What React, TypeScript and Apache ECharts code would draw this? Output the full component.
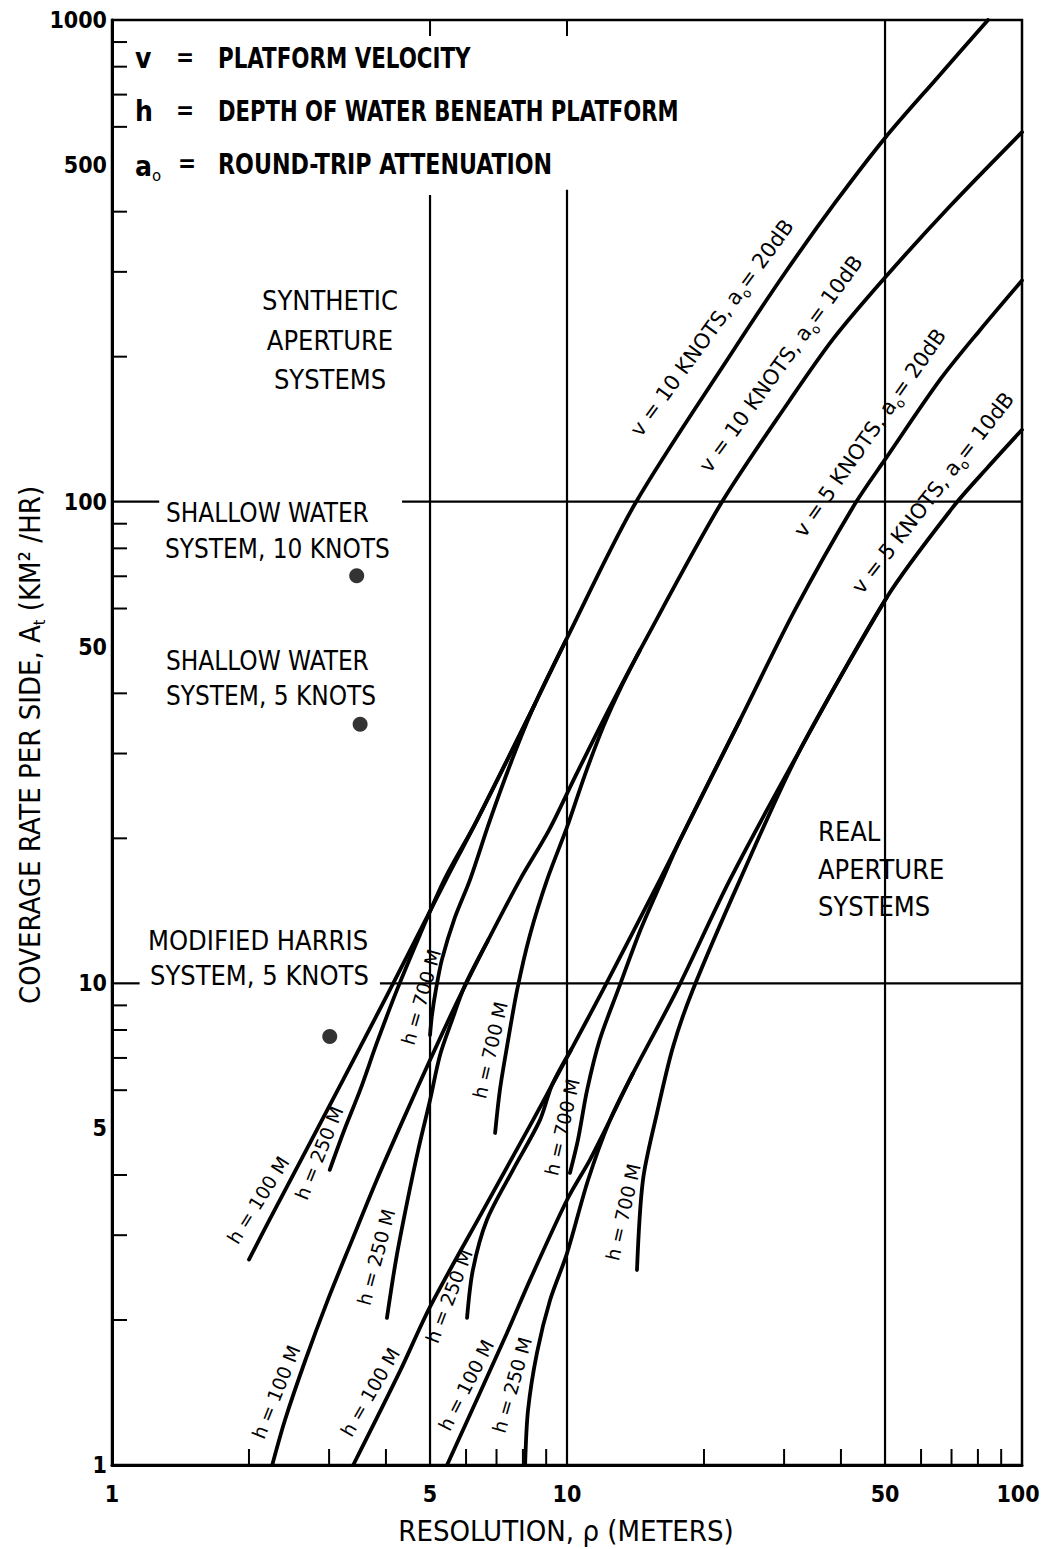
import React, { useEffect, useRef } from "react";
import * as echarts from "echarts";

// ---------- tick values ----------
const xTickValues = [1, 5, 10, 50, 100];
const yTickValues = [1, 5, 10, 50, 100, 500, 1000];
const xMinorTicks = [2, 3, 4, 6, 7, 8, 9, 20, 30, 40, 60, 70, 80, 90];
const yMinorTicks = [2, 3, 4, 6, 7, 8, 9, 20, 30, 40, 60, 70, 80, 90, 200, 300, 400, 600, 700, 800, 900];
const topTicks = [5, 10];

// ---------- curves: [resolution (m), coverage rate (km²/hr)] ----------
// v = 10 knots, a0 = 20 dB
const v10a20_h100 = [[84.2, 1000], [65.1, 758], [50.0, 569], [38.8, 417], [30.1, 298], [23.2, 206], [14.1, 98.9], [9.95, 51.6], [8.5, 38.0], [6.34, 21.8], [5.42, 16.4], [4.92, 13.7], [4.08, 9.69], [3.22, 6.3], [2.22, 3.23], [2.0, 2.67]];
const v10a20_h250 = [[8.5, 38.0], [6.34, 21.8], [5.39, 16.5], [4.75, 12.6], [4.23, 9.69], [3.82, 7.52], [3.51, 6.0], [3.24, 4.96], [3.01, 4.1]];
const v10a20_h700 = [[9.95, 51.6], [8.5, 38.0], [7.57, 29.1], [6.77, 21.8], [6.12, 16.4], [5.67, 13.7], [5.31, 11.2], [5.15, 9.69], [5.05, 8.6], [5.0, 7.81]];
// v = 10 knots, a0 = 10 dB
const v10a10_h100 = [[100, 585], [69.5, 411], [50, 292], [38.5, 218], [30.9, 162.6], [21.7, 98.4], [14.47, 49.2], [12.24, 36.4], [10.41, 26.8], [9.13, 20.8], [7.88, 16.4], [6.71, 12.3], [5.76, 9.23], [5.0, 6.93], [4.36, 5.2], [3.82, 3.91], [3.37, 2.93], [2.98, 2.2], [2.66, 1.65], [2.4, 1.24], [2.25, 1.0]];
const v10a10_h250 = [[6.71, 12.3], [5.97, 9.92], [5.59, 8.39], [5.26, 7.1], [5.0, 5.72], [4.71, 4.51], [4.45, 3.5], [4.21, 2.67], [4.02, 2.02]];
const v10a10_h700 = [[14.47, 49.2], [13.21, 41.6], [12.06, 34.4], [10.95, 27.1], [10.0, 21.1], [9.04, 16.4], [8.29, 12.6], [7.77, 9.69], [7.38, 7.38], [7.12, 6.0], [6.95, 4.89]];
// v = 5 knots, a0 = 20 dB
const v5a20_h100 = [[100, 288], [80.8, 227], [66, 179], [50.5, 124], [42.5, 97.4], [31.7, 59.6], [24.0, 35.2], [17.7, 19.8], [16.0, 16.4], [12.0, 9.69], [10.2, 7.27], [9.27, 6.15], [8.42, 5.2], [6.6, 3.43], [5.0, 2.13], [4.3, 1.57], [3.39, 1.0]];
const v5a20_h250 = [[10.2, 7.27], [9.27, 6.15], [8.72, 5.2], [7.61, 4.1], [6.67, 3.23], [6.21, 2.54], [6.03, 2.02]];
const v5a20_h700 = [[24.0, 35.2], [17.7, 19.8], [16.2, 16.4], [14.5, 12.9], [12.95, 9.69], [11.8, 7.63], [11.07, 6.0], [10.57, 4.73], [10.15, 4.04]];
// v = 5 knots, a0 = 10 dB
const v5a10_h100 = [[100, 141], [84.2, 118], [70.5, 97.4], [50.5, 63.4], [32.5, 30.5], [22.8, 16.4], [17.45, 9.69], [13.97, 6.51], [12.43, 5.2], [11.23, 4.3], [10.0, 3.55], [8.29, 2.42], [7.38, 1.88], [5.45, 1.0]];
const v5a10_h250 = [[13.97, 6.51], [12.43, 5.2], [11.13, 3.91], [10.0, 2.75], [9.18, 2.2], [8.59, 1.71], [8.21, 1.3], [8.09, 1.0]];
const v5a10_h700 = [[50.5, 63.4], [32.5, 30.5], [24.0, 16.4], [18.9, 9.69], [17.1, 7.38], [15.77, 5.38], [14.69, 3.91], [14.25, 2.54]];

// existing systems (points)
const systemPoints = [[3.45, 70.2], [3.51, 34.5], [3.01, 7.76]];

// partial grid lines
const gridLines = [
  [[5, 433], [5, 1]],
  [[10, 444], [10, 1]],
  [[50, 1000], [50, 1]],
  [[4.34, 100], [100, 100]],
  [[1, 100], [1.27, 100]],
  [[3.88, 10], [100, 10]],
  [[1, 10], [1.15, 10]],
];

const FN = '"DejaVu Sans Condensed","Liberation Sans Narrow","Arial Narrow",sans-serif';
const FD = '"DejaVu Sans","Liberation Sans",sans-serif';

const curves = [
  v10a20_h100, v10a20_h250, v10a20_h700,
  v10a10_h100, v10a10_h250, v10a10_h700,
  v5a20_h100, v5a20_h250, v5a20_h700,
  v5a10_h100, v5a10_h250, v5a10_h700,
];

function T(text: string, x: number, y: number, o: any = {}) {
  const align = o.align || "left";
  return {
    type: "text",
    x,
    y,
    rotation: ((o.rot || 0) * Math.PI) / 180,
    scaleX: o.sx || 1,
    silent: true,
    z: 10,
    style: {
      text,
      fill: "#000",
      fontFamily: o.ff || FN,
      fontSize: o.fs || 27,
      fontWeight: o.fw || "normal",
      align,
      textAlign: align,
      verticalAlign: "middle",
      textVerticalAlign: "middle",
      lineHeight: o.lh,
      rich: o.rich,
    },
  };
}

const subRich = (fs: number, ff: string = FD) => ({ s: { fontSize: fs, verticalAlign: "bottom", lineHeight: fs, fontFamily: ff } });

export default function App() {
  const ref = useRef<HTMLDivElement>(null);
  useEffect(() => {
    if (!ref.current) return;
    const chart = echarts.init(ref.current, undefined, { renderer: "svg" });

    const lineSeries = curves.map((d) => ({
      type: "line",
      data: d,
      showSymbol: false,
      symbol: "none",
      smooth: 0.3,
      silent: true,
      lineStyle: { color: "#000", width: 3.8, cap: "round" },
      z: 3,
    }));

    const gridSeries = gridLines.map((d) => ({
      type: "line",
      data: d,
      showSymbol: false,
      symbol: "none",
      silent: true,
      lineStyle: { color: "#000", width: 2.2 },
      z: 2,
    }));

    const tickLine = (dx: number, dy: number) => (params: any, api: any) => {
      const p = api.coord([api.value(0), api.value(1)]);
      return {
        type: "line",
        shape: { x1: p[0], y1: p[1], x2: p[0] + dx, y2: p[1] + dy },
        style: { stroke: "#000", lineWidth: 2 },
      };
    };

    const hLabels: [string, number, number, number][] = [
      ["h = 100 M", 258, 1200, 58],
      ["h = 250 M", 319, 1153, 68],
      ["h = 700 M", 421, 997, 74],
      ["h = 700 M", 490, 1050, 77],
      ["h = 250 M", 376, 1257, 75],
      ["h = 100 M", 276, 1392, 68],
      ["h = 700 M", 562, 1127, 77],
      ["h = 250 M", 449, 1296, 69],
      ["h = 100 M", 370, 1392, 60],
      ["h = 700 M", 623, 1212, 77],
      ["h = 250 M", 512, 1385, 74],
      ["h = 100 M", 466, 1385, 63],
    ];

    const vLabels: [string, number, number, number][] = [
      ["v = 10 KNOTS, a{s|o}= 20dB", 712, 328, 54],
      ["v = 10 KNOTS, a{s|o}= 10dB", 781, 364, 54],
      ["v = 5 KNOTS, a{s|o}= 20dB", 870, 433, 55],
      ["v = 5 KNOTS, a{s|o}= 10dB", 933, 493, 52],
    ];

    const graphic: any[] = [
      // legend
      T("v", 135, 58, { fs: 28, fw: "bold" }),
      T("=", 176, 58, { fs: 24, fw: "bold" }),
      T("PLATFORM VELOCITY", 218, 58, { fs: 28, fw: "bold", sx: 0.85 }),
      T("h", 135, 111, { fs: 28, fw: "bold" }),
      T("=", 176, 111, { fs: 24, fw: "bold" }),
      T("DEPTH OF WATER BENEATH PLATFORM", 218, 111, { fs: 28, fw: "bold", sx: 0.84 }),
      T("a{s|o}", 135, 166, { fs: 28, fw: "bold", lh: 34, rich: subRich(15) }),
      T("=", 178, 164, { fs: 24, fw: "bold" }),
      T("ROUND-TRIP ATTENUATION", 218, 164, { fs: 28, fw: "bold", sx: 0.88 }),
      // annotations
      T("SYNTHETIC", 330, 300, { align: "center" }),
      T("APERTURE", 330, 340, { align: "center" }),
      T("SYSTEMS", 330, 379, { align: "center" }),
      T("SHALLOW WATER", 166, 512, { sx: 0.96 }),
      T("SYSTEM, 10 KNOTS", 165, 548, { sx: 0.96 }),
      T("SHALLOW WATER", 166, 660, { sx: 0.96 }),
      T("SYSTEM, 5 KNOTS", 166, 695, { sx: 0.96 }),
      T("MODIFIED HARRIS", 148, 940),
      T("SYSTEM, 5 KNOTS", 150, 975),
      T("REAL", 818, 831),
      T("APERTURE", 818, 869),
      T("SYSTEMS", 818, 906),
      // axis titles
      T("RESOLUTION, ρ (METERS)", 566, 1531, { align: "center", fs: 29 }),
      T("COVERAGE RATE PER SIDE, A{s|t} (KM² /HR)", 30, 745, { align: "center", fs: 29, rot: 90, lh: 34, rich: subRich(16, FN) }),
      ...vLabels.map(([t, x, y, r]) => T(t, x, y, { align: "center", ff: FD, fs: 21, rot: r, lh: 28, rich: subRich(13) })),
      ...hLabels.map(([t, x, y, r]) => T(t, x, y, { align: "center", ff: FD, fs: 19, rot: r })),
    ];

    const option: any = {
      animation: false,
      backgroundColor: "#fff",
      grid: { left: 112, right: 20, top: 20, bottom: 84, show: true, borderColor: "#000", borderWidth: 2.5, backgroundColor: "transparent" },
      xAxis: {
        type: "log",
        logBase: 10,
        min: 1,
        max: 100,
        axisLine: { show: true, lineStyle: { color: "#000", width: 3 } },
        axisTick: { show: false },
        axisLabel: { show: false },
        splitLine: { show: false },
        minorTick: { show: false },
      },
      yAxis: {
        type: "log",
        logBase: 10,
        min: 1,
        max: 1000,
        axisLine: { show: true, lineStyle: { color: "#000", width: 3 } },
        axisTick: { show: false },
        axisLabel: { show: false },
        splitLine: { show: false },
        minorTick: { show: false },
      },
      graphic,
      series: [
        ...gridSeries,
        ...lineSeries,
        {
          type: "scatter",
          data: systemPoints,
          symbol: "circle",
          symbolSize: 15,
          itemStyle: { color: "#000" },
          silent: true,
          z: 4,
        },
        { type: "custom", data: xMinorTicks.map((v) => [v, 1]), renderItem: tickLine(0, -16), silent: true, z: 4 },
        { type: "custom", data: topTicks.map((v) => [v, 1000]), renderItem: tickLine(0, 16), silent: true, z: 4 },
        { type: "custom", data: yMinorTicks.map((v) => [1, v]), renderItem: tickLine(15, 0), silent: true, z: 4 },
        {
          type: "custom",
          data: xTickValues.map((v) => [v, 1]),
          silent: true,
          renderItem: (params: any, api: any) => {
            const v = api.value(0);
            const p = api.coord([v, api.value(1)]);
            return {
              type: "text",
              x: p[0] - (v === 100 ? 4 : 0),
              y: p[1] + 17,
              style: { text: String(v), fill: "#000", font: `bold 23px ${FN}`, align: "center", textAlign: "center", verticalAlign: "top", textVerticalAlign: "top" },
            };
          },
        },
        {
          type: "custom",
          data: yTickValues.map((v) => [1, v]),
          silent: true,
          renderItem: (params: any, api: any) => {
            const v = api.value(1);
            const p = api.coord([api.value(0), v]);
            return {
              type: "text",
              x: p[0] - 5,
              y: p[1],
              style: { text: String(v), fill: "#000", font: `bold 23px ${FN}`, align: "right", textAlign: "right", verticalAlign: "middle", textVerticalAlign: "middle" },
            };
          },
        },
      ],
    };

    chart.setOption(option);
    return () => chart.dispose();
  }, []);
  return <div ref={ref} style={{ position: "absolute", left: 0, top: 0, width: 1042, height: 1549, background: "#fff" }} />;
}
